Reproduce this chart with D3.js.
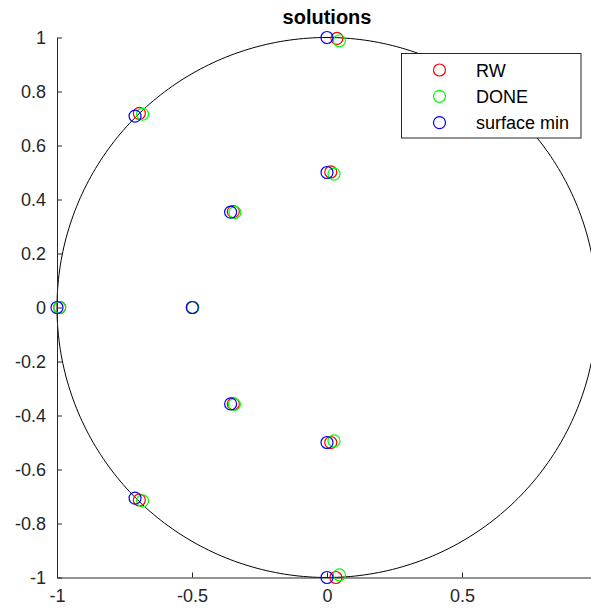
<!DOCTYPE html>
<html lang="en">
<head>
  <meta charset="utf-8">
  <title>solutions</title>
  <script src="https://d3js.org/d3.v7.min.js"></script>
  <style>
    body { margin: 0; padding: 0; background: white; overflow: hidden; }
    svg { display: block; font-family: "Liberation Sans", Arial, sans-serif; }
  </style>
</head>
<body>
  <svg id="chart" width="591" height="610"></svg>
  <script>
    const seriesNames = ["RW", "DONE", "surface min"];
    const seriesColors = ["#ff0000", "#00ff00", "#0000ff"];

    const rwX = [0.037, -0.695, 0.014, -0.347, -0.99, -0.498, -0.347, 0.014, -0.695, 0.033];
    const rwY = [0.997, 0.719, 0.502, 0.355, 0, 0, -0.357, -0.5, -0.713, -1.0];

    const doneX = [0.046, -0.683, 0.026, -0.341, -0.99, -0.497, -0.343, 0.026, -0.683, 0.046];
    const doneY = [0.988, 0.716, 0.494, 0.352, 0, 0, -0.359, -0.494, -0.716, -0.99];

    const surfX = [0, -0.711, 0, -0.357, -1.0, -0.499, -0.357, 0, -0.711, 0];
    const surfY = [1.0, 0.709, 0.5, 0.353, 0, 0, -0.357, -0.5, -0.706, -1.0];

    const xTicks = [-1, -0.5, 0, 0.5];
    const yTicks = [-1, -0.8, -0.6, -0.4, -0.2, 0, 0.2, 0.4, 0.6, 0.8, 1];

    const svg = d3.select("#chart");
    const axisColor = "#262626";

    const x = d3.scaleLinear().domain([-1, 1]).range([57, 597]);
    const y = d3.scaleLinear().domain([-1, 1]).range([577.5, 37.5]);

    // unit circle
    const circlePts = d3.range(0, 361).map(a => [Math.cos(a * Math.PI / 180), Math.sin(a * Math.PI / 180)]);
    svg.append("path")
      .datum(circlePts)
      .attr("d", d3.line().x(d => x(d[0])).y(d => y(d[1])))
      .attr("fill", "none")
      .attr("stroke", "black")
      .attr("stroke-width", 1);

    // axes
    const xAxis = svg.append("g")
      .attr("transform", `translate(0,${y(-1)})`)
      .call(d3.axisBottom(x).tickValues(xTicks).tickSizeInner(-5).tickSizeOuter(0).tickPadding(11)
        .tickFormat(d => String(d)));
    const yAxis = svg.append("g")
      .attr("transform", `translate(${x(-1)},0)`)
      .call(d3.axisLeft(y).tickValues(yTicks).tickSizeInner(-5).tickSizeOuter(0).tickPadding(11)
        .tickFormat(d => String(d)));
    [xAxis, yAxis].forEach(g => {
      g.select(".domain").attr("stroke", axisColor);
      g.selectAll(".tick line").attr("stroke", axisColor);
      g.selectAll(".tick text").attr("fill", axisColor).style("font-size", "18px").style("font-family", "Liberation Sans, Arial, sans-serif");
    });
    xAxis.selectAll(".tick text").attr("dy", "0.75em");

    // markers
    const series = [
      { xs: rwX, ys: rwY },
      { xs: doneX, ys: doneY },
      { xs: surfX, ys: surfY }
    ];
    series.forEach((s, i) => {
      svg.append("g")
        .selectAll("circle")
        .data(s.xs.map((v, j) => [v, s.ys[j]]))
        .join("circle")
        .attr("cx", d => x(d[0]))
        .attr("cy", d => y(d[1]))
        .attr("r", 6)
        .attr("fill", "none")
        .attr("stroke", seriesColors[i])
        .attr("stroke-width", 1.2);
    });

    // title
    svg.append("text")
      .attr("x", x(0))
      .attr("y", 24)
      .attr("text-anchor", "middle")
      .style("font-size", "20px")
      .style("font-weight", "bold")
      .text("solutions");

    // legend
    const legend = svg.append("g");
    legend.append("rect")
      .attr("x", 401.5).attr("y", 53.5)
      .attr("width", 179.5).attr("height", 84.5)
      .attr("fill", "white")
      .attr("stroke", axisColor);
    seriesNames.forEach((name, i) => {
      const cy = 70 + i * 26.3;
      legend.append("circle")
        .attr("cx", 439.5).attr("cy", cy).attr("r", 6)
        .attr("fill", "none").attr("stroke", seriesColors[i]).attr("stroke-width", 1.2);
      legend.append("text")
        .attr("x", 476).attr("y", cy + 6.5)
        .style("font-size", "18px")
        .attr("fill", "black")
        .text(name);
    });
  </script>
</body>
</html>
